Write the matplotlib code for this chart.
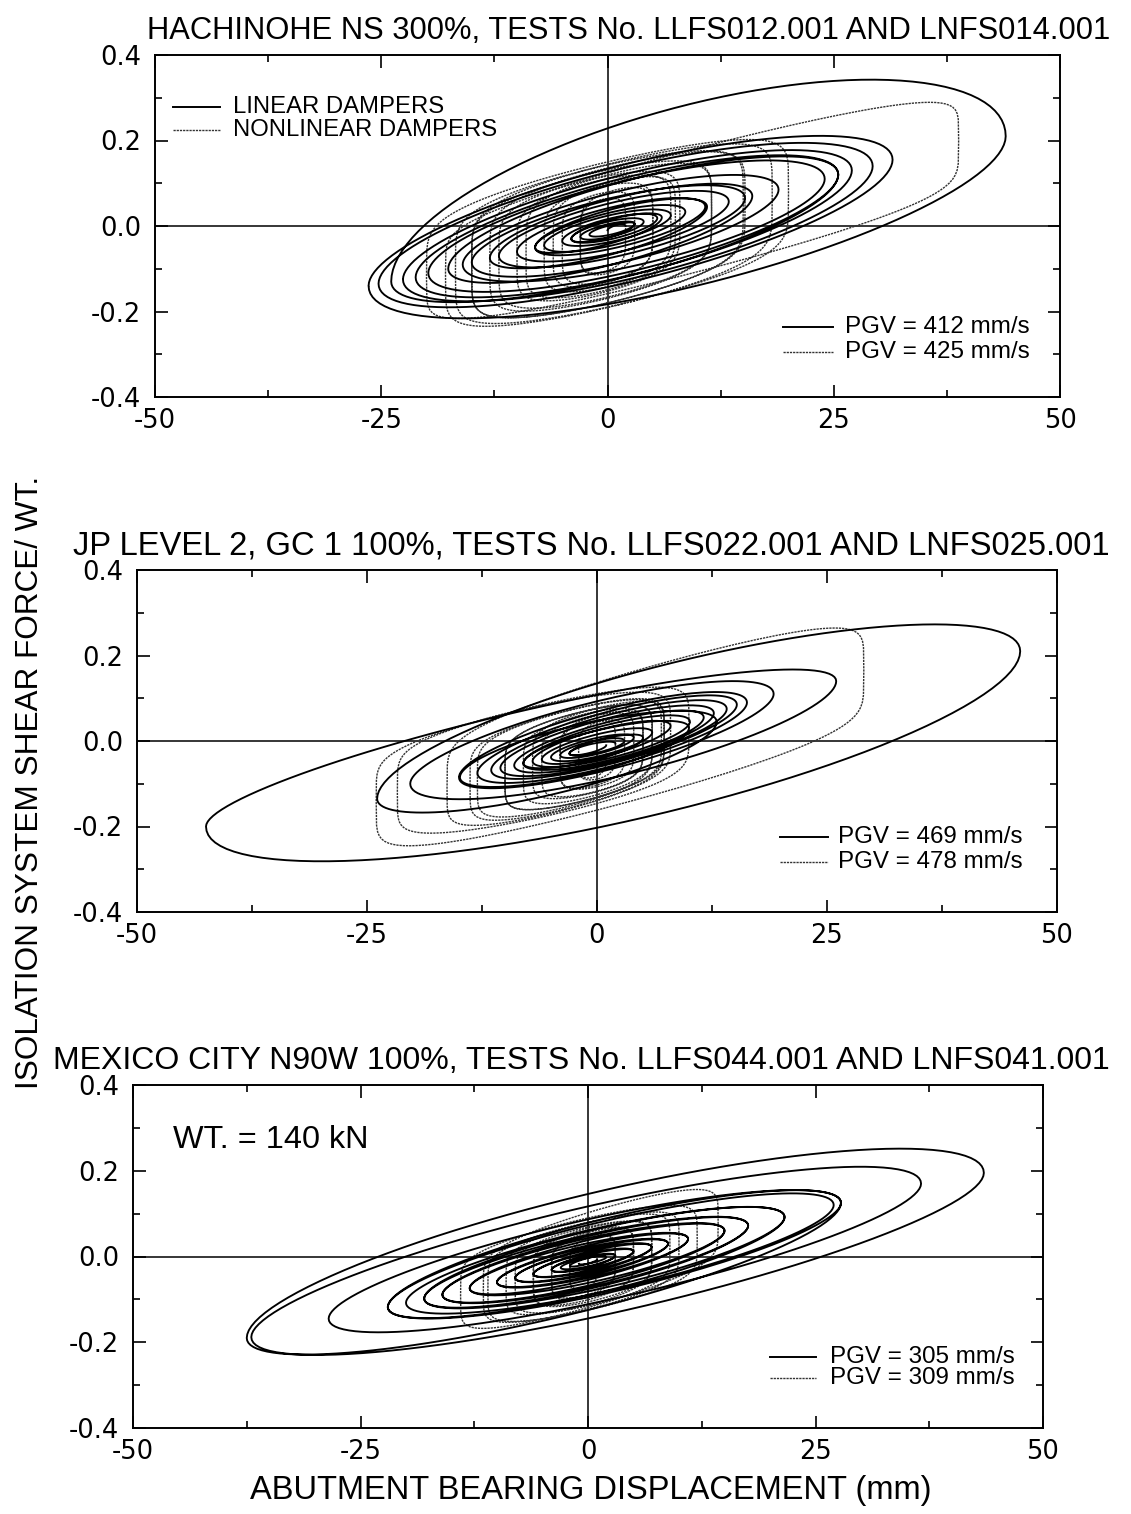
import numpy as np
import matplotlib
matplotlib.use("Agg")
import matplotlib.pyplot as plt
from matplotlib.ticker import FixedLocator, MultipleLocator

plt.rcParams['font.family'] = ['Liberation Sans', 'DejaVu Sans']

# ---------------------------------------------------------------------------
# Hysteresis records: successive turning points (displacement mm, force/WT)
# and the damping force amplitude of each half cycle between them.
# ---------------------------------------------------------------------------

# Hachinohe NS 300% - linear dampers (LLFS012.001)
hach_lin_disp = [0, 3, -4, 6, -8, 11, -13, 16, -17.6, 25.5, -23.9, 44.0, -26.4, 31.5, -25.3, 29.3,
                 -22.6, 27.0, -21.2, 25.5, -19.8, 24.0, -16.0, 18.9, -15.0, 15.2, -12.0, 13.4, -10.0,
                 10.8, -8.0, 8.6, -7.0, 7.0, -5.0, 5.5, -4.0, 4.0, -3.0, 3.0, -2.0, 2.0]
hach_lin_force = [-0.01, 0.005, -0.03, 0.02, -0.05, 0.045, -0.075, 0.07, -0.10, 0.12, -0.13, 0.21,
                  -0.14, 0.155, -0.135, 0.14, -0.125, 0.13, -0.12, 0.12, -0.11, 0.11, -0.09, 0.085,
                  -0.085, 0.065, -0.07, 0.057, -0.06, 0.045, -0.05, 0.033, -0.045, 0.025, -0.035,
                  0.018, -0.03, 0.01, -0.025, 0.005, -0.02, 0.0]
hach_lin_damp = [0.008, 0.018, 0.024, 0.033, 0.047, 0.059, 0.071, 0.082, 0.106, 0.12, 0.25, 0.18,
                 0.14, 0.138, 0.134, 0.127, 0.12, 0.118, 0.114, 0.11, 0.107, 0.098, 0.085, 0.083,
                 0.074, 0.066, 0.062, 0.057, 0.051, 0.046, 0.04, 0.038, 0.034, 0.029, 0.026,
                 0.023, 0.02, 0.017, 0.014, 0.012, 0.01]

# Hachinohe NS 300% - nonlinear dampers (LNFS014.001)
hach_nl_disp = [2, -3, 5, -6, 7.5, -9, 11.5, -13, 15.2, -15, 18.2, -17.9, 38.8, -20, 20, -16.8,
                15, -15, 11.5, -12, 8, -10, 7, -7, 5, -5, 3, -3, 2]
hach_nl_force = [-0.01, -0.035, 0.005, -0.05, 0.017, -0.065, 0.037, -0.085, 0.056, -0.095, 0.07,
                 -0.11, 0.20, -0.12, 0.08, -0.104, 0.055, -0.095, 0.037, -0.08, 0.02, -0.07, 0.015,
                 -0.055, 0.005, -0.045, -0.005, -0.035, -0.01]
hach_nl_damp = [0.085, 0.10, 0.112, 0.121, 0.129, 0.14, 0.149, 0.156, 0.16, 0.165, 0.17, 0.14,
                0.15, 0.17, 0.17, 0.163, 0.16, 0.152, 0.146, 0.138, 0.133, 0.131, 0.122, 0.116,
                0.109, 0.10, 0.091, 0.085]

# JP Level 2, GC 1 100% - linear dampers (LLFS022.001)
jp_lin_disp = [1, -3, 5, -8, 10, -14.9, 13, -23.9, 46, -42.5, 26, -20.3, 19.2, -15, 16.3, -13,
               15.2, -11.5, 14.1, -10.5, 12.7, -9, 11.6, -8, 10.1, -7, 8, -6, 6, -5, 4, -4, 3, -3, 2]
jp_lin_force = [-0.01, -0.03, 0.008, -0.052, 0.031, -0.085, 0.045, -0.135, 0.21, -0.20, 0.14,
                -0.10, 0.11, -0.085, 0.09, -0.075, 0.085, -0.068, 0.075, -0.063, 0.065, -0.057,
                0.055, -0.052, 0.045, -0.047, 0.035, -0.043, 0.02, -0.038, 0.008, -0.033, 0.0,
                -0.029, -0.006]
jp_lin_damp = [0.009, 0.018, 0.029, 0.04, 0.056, 0.063, 0.083, 0.16, 0.20, 0.10, 0.10, 0.085,
               0.075, 0.07, 0.066, 0.063, 0.06, 0.058, 0.055, 0.052, 0.049, 0.046, 0.044, 0.041,
               0.038, 0.034, 0.031, 0.027, 0.025, 0.02, 0.018, 0.016, 0.013, 0.011]

# JP Level 2, GC 1 100% - nonlinear dampers (LNFS025.001)
jp_nl_disp = [1, -2, 3, -4, 5, -7, 7.3, -10, 6, -13, 7.3, -16.3, 29, -24, 10, -21.7, 8, -13.8,
              7, -10, 6, -8, 5, -6, 4, -4, 2, -2]
jp_nl_force = [-0.02, -0.035, -0.01, -0.045, 0.0, -0.06, 0.015, -0.08, 0.005, -0.095, 0.015,
               -0.11, 0.165, -0.14, 0.03, -0.12, 0.02, -0.10, 0.012, -0.08, 0.005, -0.07, 0.0,
               -0.058, -0.005, -0.045, -0.015, -0.035]
jp_nl_damp = [0.058, 0.069, 0.078, 0.085, 0.094, 0.10, 0.107, 0.104, 0.11, 0.113, 0.119, 0.15,
              0.16, 0.135, 0.132, 0.129, 0.116, 0.114, 0.106, 0.104, 0.099, 0.097, 0.091, 0.088,
              0.082, 0.074, 0.064]

# Mexico City N90W 100% - linear dampers (LLFS044.001)
mex_lin_disp = [1, -2, 3, -4, 5, -6, 7, -8, 8.8, -10, 11, -13, 15, -16, 17.6, -18, 21.6, -22,
                27.8, -37.5, 43.5, -37.0, 36.6, -28.5, 27.8, -22, 27, -20, 21.6, -18, 17.6, -16,
                15, -13, 11, -10, 8.8, -8, 7, -6, 5, -4, 3, -3, 2, -1]
mex_lin_force = [-0.007, -0.022, 0.002, -0.031, 0.012, -0.041, 0.022, -0.05, 0.03, -0.06, 0.041,
                 -0.074, 0.06, -0.089, 0.072, -0.098, 0.092, -0.118, 0.125, -0.19, 0.195, -0.188,
                 0.17, -0.145, 0.125, -0.118, 0.12, -0.108, 0.092, -0.098, 0.072, -0.089, 0.06,
                 -0.074, 0.041, -0.06, 0.03, -0.05, 0.022, -0.041, 0.012, -0.031, 0.002, -0.026,
                 -0.002, -0.017]
mex_lin_damp = [0.005, 0.009, 0.013, 0.016, 0.02, 0.023, 0.027, 0.03, 0.034, 0.038, 0.043, 0.05,
                0.056, 0.06, 0.064, 0.071, 0.078, 0.09, 0.117, 0.158, 0.133, 0.125, 0.105, 0.095,
                0.085, 0.085, 0.08, 0.073, 0.07, 0.063, 0.06, 0.055, 0.05, 0.043, 0.038, 0.034,
                0.03, 0.027, 0.023, 0.02, 0.016, 0.013, 0.011, 0.009, 0.005]

# Mexico City N90W 100% - nonlinear dampers (LNFS041.001)
mex_nl_disp = [1, -2, 3, -4, 5, -6, 7, -9, 10, -11.5, 14.3, -14, 12, -11, 9, -8, 7, -6, 5, -4,
               3, -2, 1]
mex_nl_force = [-0.015, -0.03, -0.005, -0.04, 0.005, -0.05, 0.015, -0.065, 0.03, -0.078, 0.08,
                -0.09, 0.04, -0.075, 0.025, -0.06, 0.015, -0.05, 0.005, -0.04, -0.005, -0.03,
                -0.015]
mex_nl_damp = [0.052, 0.062, 0.069, 0.076, 0.081, 0.086, 0.093, 0.099, 0.103, 0.11, 0.113, 0.11,
               0.105, 0.10, 0.095, 0.089, 0.086, 0.081, 0.076, 0.069, 0.062, 0.052]

titles = ["HACHINOHE NS 300%, TESTS No. LLFS012.001 AND LNFS014.001",
          "JP LEVEL 2, GC 1 100%, TESTS No. LLFS022.001 AND LNFS025.001",
          "MEXICO CITY N90W 100%, TESTS No. LLFS044.001 AND LNFS041.001"]
title_sizes = [22.2, 23.6, 23.0]
pgv_linear = ["PGV = 412 mm/s", "PGV = 469 mm/s", "PGV = 305 mm/s"]
pgv_nonlinear = ["PGV = 425 mm/s", "PGV = 478 mm/s", "PGV = 309 mm/s"]
x_ticks = [-50, -25, 0, 25, 50]
x_ticklabels = ["-50", "-25", "0", "25", "50"]
y_ticks = [-0.4, -0.2, 0.0, 0.2, 0.4]
y_ticklabels = ["-0.4", "-0.2", "0.0", "0.2", "0.4"]

# velocity exponent of the damper force (linear: 1, nonlinear: fractional)
LIN_EXP = 1.0
NL_EXP = 0.35


def hysteresis(disp, force, damp, alpha, n=60):
    """Trace half cycles between turning points; the damping term follows
    the (sinusoidal) velocity raised to the damper exponent."""
    s = np.linspace(0.0, 1.0, n)
    u = (1.0 - np.cos(np.pi * s)) / 2.0
    vel = np.sin(np.pi * s) ** alpha
    xs, ys = [], []
    for i in range(len(disp) - 1):
        x0, x1 = disp[i], disp[i + 1]
        f0, f1 = force[i], force[i + 1]
        sgn = np.sign(x1 - x0)
        xs.append(x0 + (x1 - x0) * u)
        ys.append(f0 + (f1 - f0) * u + sgn * damp[i] * vel)
    return np.concatenate(xs), np.concatenate(ys)


records = [
    ((hach_lin_disp, hach_lin_force, hach_lin_damp), (hach_nl_disp, hach_nl_force, hach_nl_damp)),
    ((jp_lin_disp, jp_lin_force, jp_lin_damp), (jp_nl_disp, jp_nl_force, jp_nl_damp)),
    ((mex_lin_disp, mex_lin_force, mex_lin_damp), (mex_nl_disp, mex_nl_force, mex_nl_damp)),
]

W, H = 1131, 1514
fig = plt.figure(figsize=(W / 100, H / 100), dpi=100)

# axes boxes in pixels: left, top, right, bottom
boxes = [(155, 55, 1060, 397), (137, 570, 1057, 912), (133, 1085, 1043, 1428)]
# PGV key: line start/end, text start, upper and lower row heights (axes fraction)
pgv_keys = [(0.694, 0.749, 0.762, 0.205, 0.132),
            (0.699, 0.751, 0.762, 0.219, 0.146),
            (0.700, 0.751, 0.766, 0.207, 0.146)]

LIN_COLOR = "black"
NL_COLOR = "#333333"
NL_STYLE = (0, (1.6, 0.7))
TICK_FONT = "DejaVu Sans"

for k, (box, title, rec) in enumerate(zip(boxes, titles, records)):
    l, t, r, b = box
    ax = fig.add_axes([l / W, 1 - b / H, (r - l) / W, (b - t) / H])
    ax.set_xlim(-50, 50)
    ax.set_ylim(-0.4, 0.4)
    ax.axhline(0, color="black", lw=1.1, zorder=1)
    ax.axvline(0, color="black", lw=1.1, zorder=1)

    (ld, lf, ldmp), (nd, nf, ndmp) = rec
    xn, yn = hysteresis(nd, nf, ndmp, NL_EXP)
    ax.plot(xn, yn, color=NL_COLOR, lw=1.0, ls=NL_STYLE, zorder=2)
    xl, yl = hysteresis(ld, lf, ldmp, LIN_EXP)
    ax.plot(xl, yl, color=LIN_COLOR, lw=1.35, zorder=3)

    ax.xaxis.set_major_locator(FixedLocator(x_ticks))
    ax.set_xticklabels(x_ticklabels, fontfamily=TICK_FONT)
    ax.xaxis.set_minor_locator(MultipleLocator(12.5))
    ax.yaxis.set_major_locator(FixedLocator(y_ticks))
    ax.set_yticklabels(y_ticklabels, fontfamily=TICK_FONT)
    ax.yaxis.set_minor_locator(MultipleLocator(0.1))
    ax.tick_params(which="both", direction="in", top=True, right=True, width=1.2)
    ax.tick_params(which="major", length=9, labelsize=18.5)
    ax.tick_params(which="minor", length=5)
    ax.tick_params(axis="x", which="major", pad=8)
    ax.tick_params(axis="y", which="major", pad=10)
    for sp in ax.spines.values():
        sp.set_linewidth(1.4)

    fig.text(1110 / W, 1 - (t - 24) / H, title, ha="right", va="center",
             fontsize=title_sizes[k])

    # PGV key (lower right)
    x0, x1, xt, ya, yb = pgv_keys[k]
    ax.plot([x0, x1], [ya, ya], transform=ax.transAxes, color=LIN_COLOR, lw=1.4)
    ax.plot([x0, x1], [yb, yb], transform=ax.transAxes, color=NL_COLOR, lw=1.0, ls=NL_STYLE)
    ax.text(xt, ya, pgv_linear[k], transform=ax.transAxes, fontsize=17.4, va="center")
    ax.text(xt, yb, pgv_nonlinear[k], transform=ax.transAxes, fontsize=17.4, va="center")

    if k == 0:
        ax.plot([0.02, 0.072], [0.848, 0.848], transform=ax.transAxes, color=LIN_COLOR, lw=1.4)
        ax.plot([0.02, 0.072], [0.781, 0.781], transform=ax.transAxes, color=NL_COLOR, lw=1.0,
                ls=NL_STYLE)
        ax.text(0.086, 0.848, "LINEAR DAMPERS", transform=ax.transAxes, fontsize=17.2, va="center")
        ax.text(0.086, 0.781, "NONLINEAR DAMPERS", transform=ax.transAxes, fontsize=17.2,
                va="center")
    if k == 2:
        ax.text(0.044, 0.84, "WT. = 140 kN", transform=ax.transAxes, fontsize=23.3, va="center")

fig.text(30 / W, 1 - 782 / H, "ISOLATION SYSTEM SHEAR FORCE/ WT.", rotation=90,
         ha="center", va="center", fontsize=22.7)
fig.text(591 / W, 1 - 1490 / H, "ABUTMENT BEARING DISPLACEMENT (mm)", ha="center",
         va="center", fontsize=23.5)

fig.savefig("out.png", dpi=100, facecolor="white")
